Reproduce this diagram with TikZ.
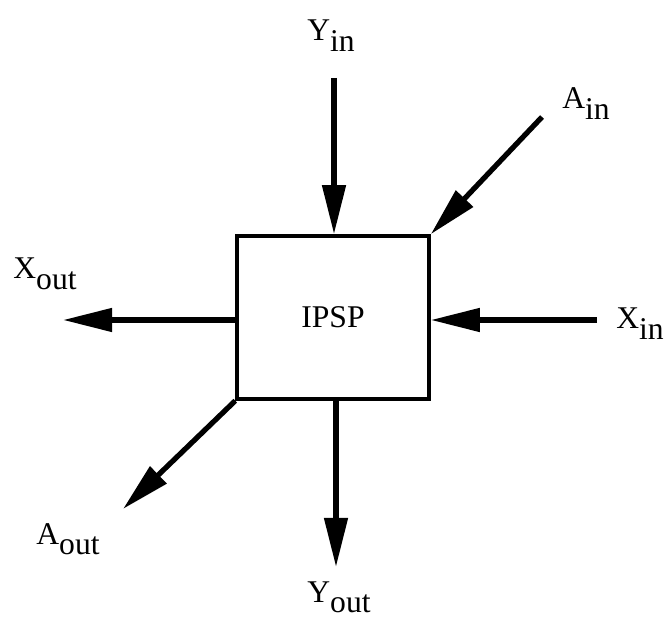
\documentclass[tikz,border=0pt]{standalone}
\usepackage{fontspec}
\setmainfont{Liberation Serif}
\usetikzlibrary{arrows.meta,positioning}
\newcommand{\lowsub}[1]{\raisebox{-.33em}{#1}}

\begin{document}
\begin{tikzpicture}[x=.02cm,y=-.02cm,
  lbl/.style={font=\fontsize{18}{21}\selectfont,anchor=base west,inner sep=0pt},
  flow/.style={line width=3pt,-{Triangle[length=28pt,width=13pt]}}]
\useasboundingbox (0,0) rectangle (665,617);
\node[draw,line width=2pt,minimum width=3.84cm,minimum height=3.26cm,
  font=\fontsize{18}{21}\selectfont] (ipsp) at (333,317.5) {IPSP};
\node[lbl] (yinlbl) at (307,41) {Y\lowsub{in}};
\node[lbl] (ainlbl) at (562,109) {A\lowsub{in}};
\node[lbl] (xinlbl) at (616,329) {X\lowsub{in}};
\node[lbl] (xoutlbl) at (13,279) {X\lowsub{out}};
\node[lbl] (aoutlbl) at (36,544) {A\lowsub{out}};
\node[lbl] (youtlbl) at (307,602) {Y\lowsub{out}};
\coordinate (yin) at (334,78);
\coordinate (ain) at (542,117);
\coordinate (xin) at (597,320);
\coordinate (xout) at (63,320);
\coordinate (aout) at (123,509);
\coordinate (yout) at (336,567);
\draw[flow] (yin) -- (yin |- ipsp.north);
\draw[flow] (ain) -- (ipsp.north east);
\draw[flow] (xin) -- (xin -| ipsp.east);
\draw[flow] (ipsp.west |- xout) -- (xout);
\draw[flow] (ipsp.south west) -- (aout);
\draw[flow] (yout |- ipsp.south) -- (yout);
\end{tikzpicture}
\end{document}
